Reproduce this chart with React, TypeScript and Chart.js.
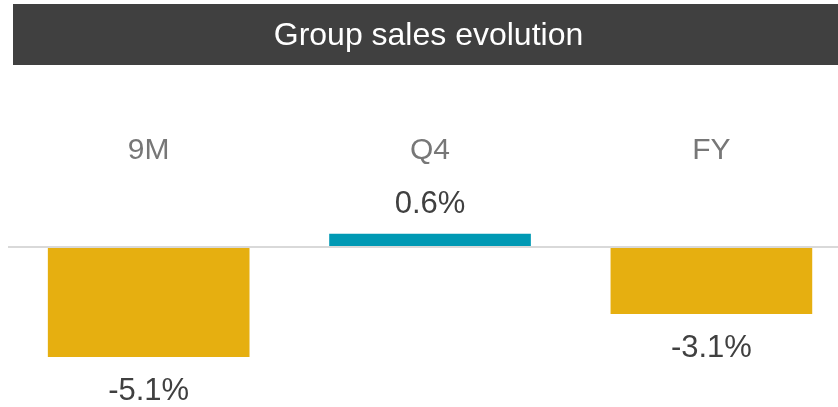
import React, { useEffect, useRef } from 'react';
import { Chart, registerables } from 'chart.js';
Chart.register(...registerables);

const TITLE = 'Group sales evolution';
const categories = ['9M', 'Q4', 'FY'];
const values = [-5.1, 0.6, -3.1];
const valueLabels = ['-5.1%', '0.6%', '-3.1%'];

const FONT = '"Liberation Sans", Arial, Helvetica, sans-serif';
const NEG_COLOR = '#E6AF10';
const POS_COLOR = '#0099B4';

export default function App() {
  const ref = useRef<HTMLCanvasElement>(null);
  useEffect(() => {
    const canvas = ref.current!;
    const plugin = {
      id: 'custom',
      beforeDraw(chart: any) {
        const ctx = chart.ctx;
        ctx.save();
        ctx.fillStyle = '#404040';
        ctx.fillRect(13, 4, 825, 61);
        ctx.fillStyle = '#ffffff';
        ctx.font = `32px ${FONT}`;
        ctx.textAlign = 'center';
        ctx.textBaseline = 'alphabetic';
        ctx.fillText(TITLE, 428.5, 45);
        const xs = chart.scales.x;
        ctx.fillStyle = '#777777';
        ctx.font = `30px ${FONT}`;
        categories.forEach((c, i) => ctx.fillText(c, xs.getPixelForValue(i), 159));
        ctx.restore();
      },
      afterDatasetsDraw(chart: any) {
        const ctx = chart.ctx;
        const ys = chart.scales.y;
        const y0 = ys.getPixelForValue(0);
        ctx.save();
        ctx.strokeStyle = '#d9d9d9';
        ctx.lineWidth = 2;
        ctx.beginPath();
        ctx.moveTo(8, y0);
        ctx.lineTo(838, y0);
        ctx.stroke();
        const meta = chart.getDatasetMeta(0);
        ctx.fillStyle = '#404040';
        ctx.font = `31px ${FONT}`;
        ctx.textAlign = 'center';
        ctx.textBaseline = 'alphabetic';
        meta.data.forEach((bar: any, i: number) => {
          const v = values[i];
          const y = v >= 0 ? bar.y - 21 : bar.y + 43;
          ctx.fillText(valueLabels[i], bar.x, y);
        });
        ctx.restore();
      },
    };
    const chart = new Chart(canvas, {
      type: 'bar',
      data: {
        datasets: [
          {
            data: values.map((v, i) => ({ x: i, y: v })),
            backgroundColor: values.map((v) => (v >= 0 ? POS_COLOR : NEG_COLOR)),
            barThickness: 201,
            borderWidth: 0,
          },
        ],
      },
      options: {
        animation: false,
        responsive: false,
        devicePixelRatio: 1,
        layout: { padding: { left: 8, top: 68, right: 0, bottom: 0 } },
        plugins: { legend: { display: false }, tooltip: { enabled: false }, title: { display: false } },
        scales: {
          x: { type: 'linear', min: -0.5, max: 2.45, offset: false, display: false },
          y: { type: 'linear', min: -7.44, max: 8.33, display: false },
        },
      },
      plugins: [plugin],
    } as any);
    return () => chart.destroy();
  }, []);
  return (
    <div style={{ position: 'fixed', left: 0, top: 0, width: 838, height: 407, background: '#fff' }}>
      <canvas ref={ref} width={838} height={407} style={{ display: 'block', width: 838, height: 407 }} />
    </div>
  );
}
